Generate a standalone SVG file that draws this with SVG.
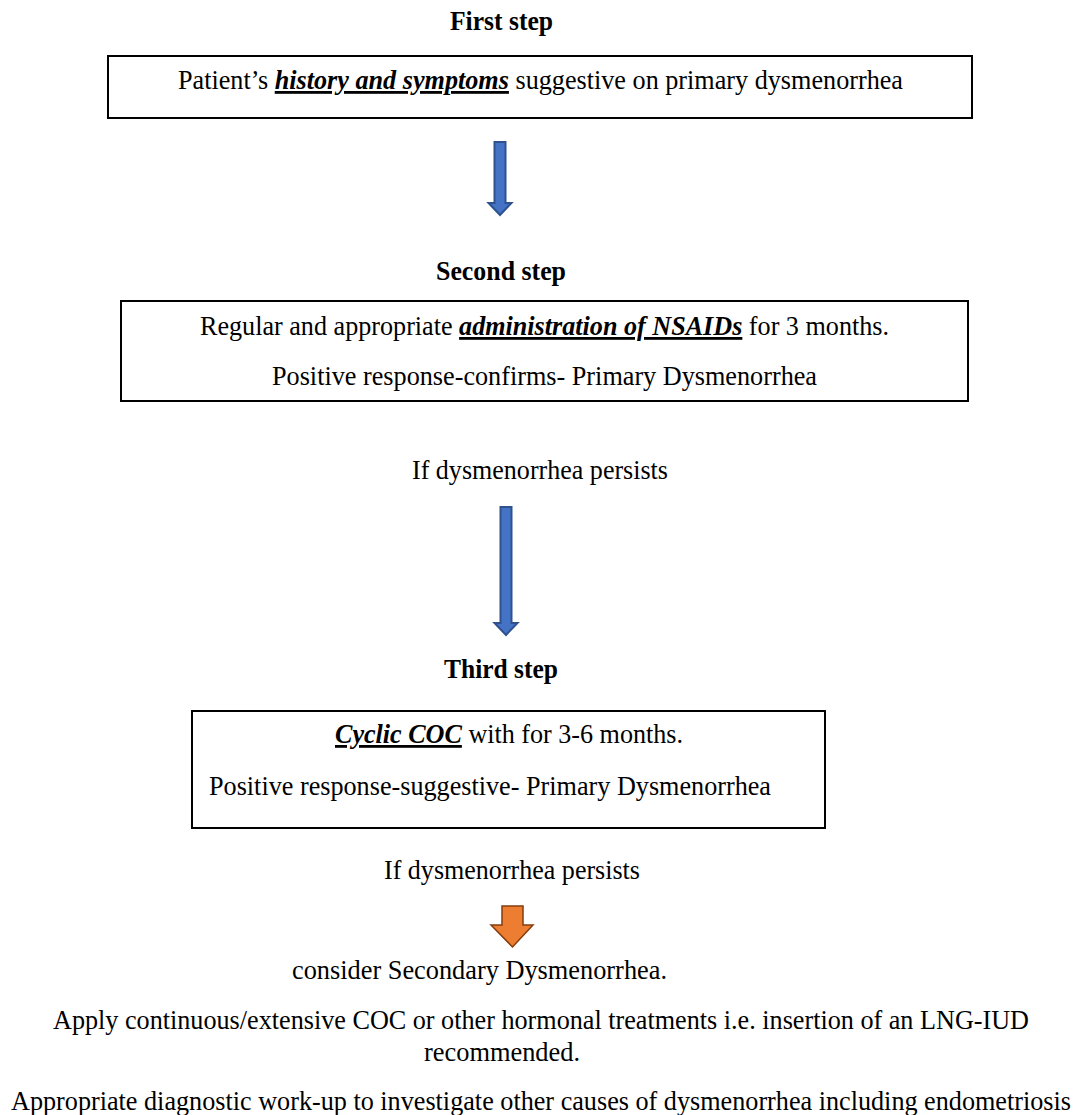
<svg xmlns="http://www.w3.org/2000/svg" width="1076" height="1115" viewBox="0 0 1076 1115" font-family="'Liberation Serif', 'Times New Roman', Tinos, 'DejaVu Serif', serif">
<style>
text{font-family:'Liberation Serif','Times New Roman',Tinos,'DejaVu Serif',serif;font-size:28px;fill:#000}
.h{font-weight:bold;font-size:27px}
.bx{fill:#fff;stroke:#000;stroke-width:2}
.em{font-weight:bold;font-style:italic;text-decoration:underline}
.blue{fill:#4472C4;stroke:#2F528F;stroke-width:2}
.orange{fill:#ED7D31;stroke:#843C0C;stroke-width:1.5}
</style>
<rect width="1076" height="1115" fill="#fff"/>
<g id="step1">
<text class="h" x="450" y="30" textLength="103" lengthAdjust="spacingAndGlyphs">First step</text>
<rect class="bx" x="108" y="56" width="864" height="62"/>
<text x="178" y="89" textLength="725" lengthAdjust="spacingAndGlyphs">Patient’s <tspan class="em">history and symptoms</tspan> suggestive on primary dysmenorrhea</text>
</g>
<g id="step2">
<text class="h" x="436" y="280" textLength="130" lengthAdjust="spacingAndGlyphs">Second step</text>
<rect class="bx" x="121" y="301" width="847" height="100"/>
<text x="200" y="335" textLength="689" lengthAdjust="spacingAndGlyphs">Regular and appropriate <tspan class="em">administration of NSAIDs</tspan> for 3 months.</text>
<text x="272" y="385" textLength="545" lengthAdjust="spacingAndGlyphs">Positive response-confirms- Primary Dysmenorrhea</text>
</g>
<g id="persists1">
<text x="412" y="479" textLength="256" lengthAdjust="spacingAndGlyphs">If dysmenorrhea persists</text>
</g>
<g id="step3">
<text class="h" x="444" y="678" textLength="114" lengthAdjust="spacingAndGlyphs">Third step</text>
<rect class="bx" x="192" y="711" width="633" height="117"/>
<text x="335" y="743" textLength="348" lengthAdjust="spacingAndGlyphs"><tspan class="em">Cyclic COC</tspan> with for 3-6 months.</text>
<text x="209" y="795" textLength="562" lengthAdjust="spacingAndGlyphs">Positive response-suggestive- Primary Dysmenorrhea</text>
</g>
<g id="persists2">
<text x="384" y="879" textLength="256" lengthAdjust="spacingAndGlyphs">If dysmenorrhea persists</text>
</g>
<g id="secondary">
<text x="292" y="979" textLength="375" lengthAdjust="spacingAndGlyphs">consider Secondary Dysmenorrhea.</text>
<text x="53" y="1029" textLength="976" lengthAdjust="spacingAndGlyphs">Apply continuous/extensive COC or other hormonal treatments i.e. insertion of an LNG-IUD</text>
<text x="424" y="1061" textLength="156" lengthAdjust="spacingAndGlyphs">recommended.</text>
<text x="11" y="1110" textLength="1060" lengthAdjust="spacingAndGlyphs">Appropriate diagnostic work-up to investigate other causes of dysmenorrhea including endometriosis</text>
</g>
<g id="connectors">
<path class="blue" d="M494.5,142 H505.5 V203 H511.5 L500,215 L488.5,203 H494.5 Z"/>
<path class="blue" d="M500.5,507 H511.5 V623 H517.5 L506,635 L494.5,623 H500.5 Z"/>
<path class="orange" d="M502,906 H523 V925 H533 L512.5,947 L491,925 H502 Z"/>
</g>
</svg>
